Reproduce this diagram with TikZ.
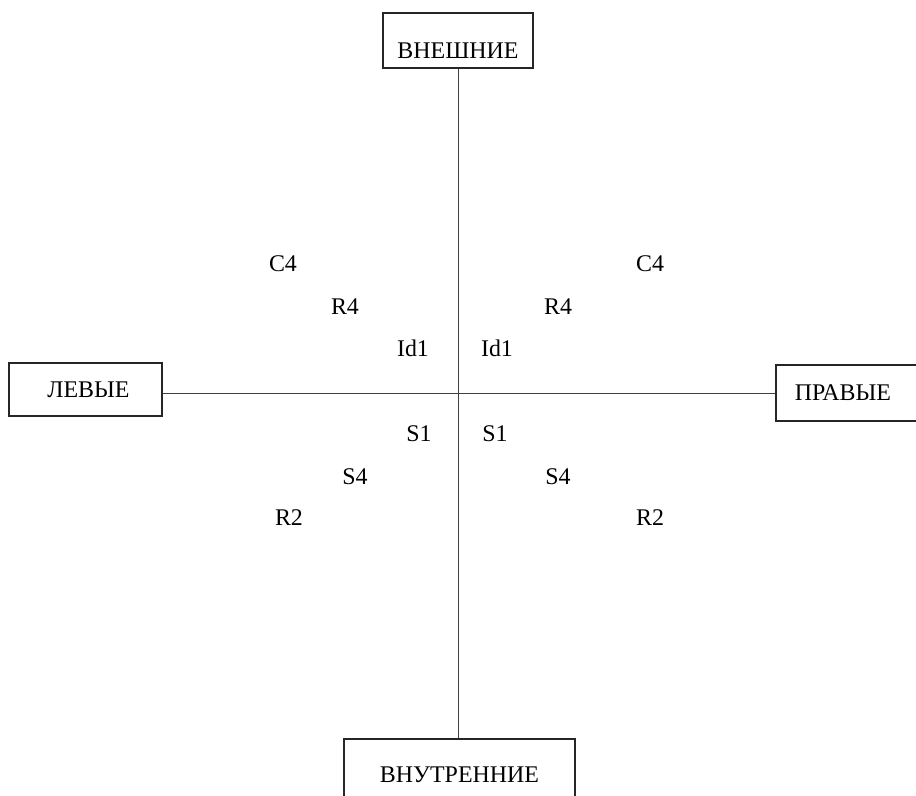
\documentclass[tikz,border=0pt]{standalone}
\usepackage{fontspec}
\setmainfont{Liberation Serif}
\usetikzlibrary{positioning}

\begin{document}
\begin{tikzpicture}[
    x = 0.025cm, y = -0.025cm, % one unit = one pixel of the sheet
    every node/.style = {font=\fontsize{17}{20}\selectfont},
    semithick % line style
    ]

    \tikzset{box/.style={
    draw = black!85,
    line width = 0.8pt,
    inner sep = 0pt
    }}
    \tikzset{lbl/.style={inner sep = 0pt}}

    \useasboundingbox (0,0) rectangle (916,796);
    \clip (0,0) rectangle (916,796);

    % the four boxes
    \node[box,minimum width=3.75cm,minimum height=1.375cm,
          text height=1.05cm,text depth=0.15cm] (ext) at (458,40.5) {ВНЕШНИЕ};
    \node[box,minimum width=3.825cm,minimum height=1.325cm] (left) at (85.5,389.5) {\kern0.15cm ЛЕВЫЕ};
    \node[box,minimum width=3.8cm,minimum height=1.4cm] (right) at (852,393) {ПРАВЫЕ\kern0.45cm\relax};
    \node[box,minimum width=5.775cm,minimum height=1.775cm] (int) at (459.5,774.5) {ВНУТРЕННИЕ};

    % the axes
    \draw[black!75] (ext.south) -- (ext.south |- int.north);
    \draw[black!75] (left.east |- right.west) -- (right.west);

    % upper labels
    \node[lbl] (c4l) at (283,264) {C4};
    \node[lbl] (r4l) at (345,307) {R4};
    \node[lbl] (idl) at (413,348) {Id1};
    \node[lbl] (idr) at (497,348) {Id1};
    \node[lbl] (r4r) at (558,307) {R4};
    \node[lbl] (c4r) at (650,264) {C4};

    % lower labels
    \node[lbl] (s1l) at (419,434) {S1};
    \node[lbl] (s4l) at (355,477) {S4};
    \node[lbl] (r2l) at (289,518) {R2};
    \node[lbl] (s1r) at (495,434) {S1};
    \node[lbl] (s4r) at (558,477) {S4};
    \node[lbl] (r2r) at (650,518) {R2};
\end{tikzpicture}
\end{document}
